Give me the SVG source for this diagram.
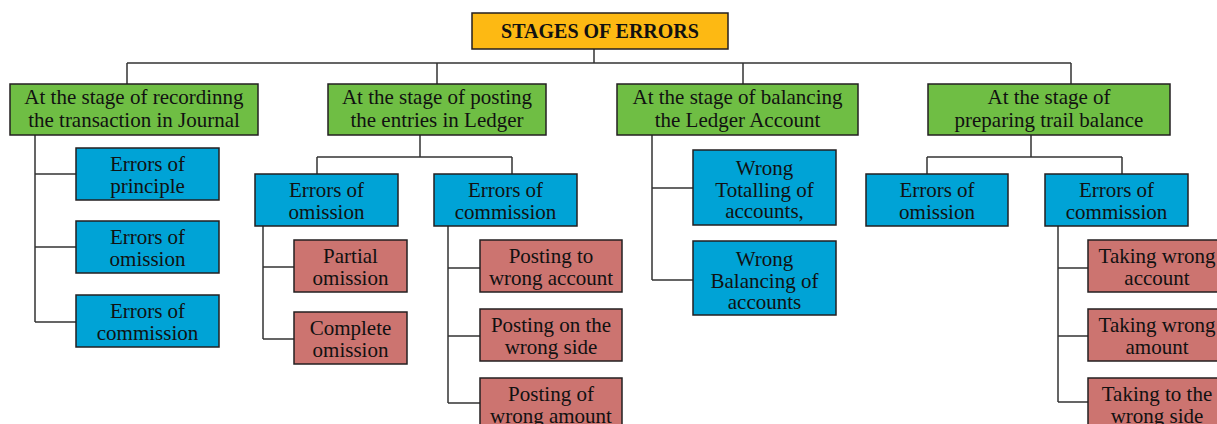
<svg xmlns="http://www.w3.org/2000/svg" width="1217" height="424" viewBox="0 0 1217 424">
  <style>
    .box { stroke: #231f20; stroke-width: 1.5; }
    .title { fill: #fdb913; }
    .stage { fill: #6fbe44; }
    .type { fill: #00a3d6; }
    .sub { fill: #cc7470; }
    text { font-family: "Liberation Serif", "Times New Roman", serif; font-size: 21px; fill: #111; text-anchor: middle; }
    .bold { font-weight: bold; font-size: 20px; }
    .wire { fill: none; stroke: #333; stroke-width: 1.5; }
  </style>
  <rect width="1217" height="424" fill="#fff"/>

  <!-- connectors -->
  <g id="connectors" class="wire">
    <path d="M594 49V63M127 63H1071M127 63V84M437 63V84M743 63V84M1071 63V84"/>
    <!-- journal stage -->
    <path d="M35 135V322M35 174H76M35 247H76M35 322H76"/>
    <!-- ledger posting stage -->
    <path d="M420 135V157M317 157H512M317 157V174M512 157V174"/>
    <path d="M263 226V339M263 267H294M263 339H294"/>
    <path d="M448 226V403M448 268H480M448 336H480M448 403H480"/>
    <!-- balancing stage -->
    <path d="M652 135V280M652 188H693M652 280H693"/>
    <!-- trial balance stage -->
    <path d="M1031 135V157M927 157H1122M927 157V174M1122 157V174"/>
    <path d="M1058 226V402M1058 268H1088M1058 336H1088M1058 402H1088"/>
  </g>

  <g id="root">
    <rect class="box title" x="472" y="13" width="256" height="36"/>
    <text class="bold" x="600" y="38">STAGES OF ERRORS</text>
  </g>

  <g id="stage-journal">
    <rect class="box stage" x="10" y="84" width="248" height="51"/>
    <text x="134" y="104">At the stage of recordinng</text>
    <text x="134" y="127">the transaction in Journal</text>
  </g>
  <g id="stage-ledger">
    <rect class="box stage" x="328" y="84" width="218" height="51"/>
    <text x="437" y="104">At the stage of posting</text>
    <text x="437" y="127">the entries in Ledger</text>
  </g>
  <g id="stage-balancing">
    <rect class="box stage" x="617" y="84" width="241" height="51"/>
    <text x="737.5" y="104">At the stage of balancing</text>
    <text x="737.5" y="127">the Ledger Account</text>
  </g>
  <g id="stage-trial">
    <rect class="box stage" x="928" y="84" width="242" height="51"/>
    <text x="1049" y="104">At the stage of</text>
    <text x="1049" y="127">preparing trail balance</text>
  </g>

  <!-- journal stage errors -->
  <g id="j-principle">
    <rect class="box type" x="76" y="148" width="143" height="52"/>
    <text x="147.5" y="171">Errors of</text>
    <text x="147.5" y="193">principle</text>
  </g>
  <g id="j-omission">
    <rect class="box type" x="76" y="221" width="143" height="52"/>
    <text x="147.5" y="244">Errors of</text>
    <text x="147.5" y="266">omission</text>
  </g>
  <g id="j-commission">
    <rect class="box type" x="76" y="295" width="143" height="52"/>
    <text x="147.5" y="318">Errors of</text>
    <text x="147.5" y="340">commission</text>
  </g>

  <!-- ledger posting errors -->
  <g id="l-omission">
    <rect class="box type" x="255" y="174" width="143" height="52"/>
    <text x="326.5" y="197">Errors of</text>
    <text x="326.5" y="219">omission</text>
  </g>
  <g id="l-commission">
    <rect class="box type" x="434" y="174" width="143" height="52"/>
    <text x="505.5" y="197">Errors of</text>
    <text x="505.5" y="219">commission</text>
  </g>
  <g id="l-partial">
    <rect class="box sub" x="294" y="240" width="113" height="52"/>
    <text x="350.5" y="263">Partial</text>
    <text x="350.5" y="285">omission</text>
  </g>
  <g id="l-complete">
    <rect class="box sub" x="294" y="312" width="113" height="52"/>
    <text x="350.5" y="335">Complete</text>
    <text x="350.5" y="357">omission</text>
  </g>
  <g id="l-wrong-account">
    <rect class="box sub" x="480" y="240" width="142" height="52"/>
    <text x="551" y="263">Posting to</text>
    <text x="551" y="285">wrong account</text>
  </g>
  <g id="l-wrong-side">
    <rect class="box sub" x="480" y="309" width="142" height="52"/>
    <text x="551" y="332">Posting on the</text>
    <text x="551" y="354">wrong side</text>
  </g>
  <g id="l-wrong-amount">
    <rect class="box sub" x="480" y="378" width="142" height="52"/>
    <text x="551" y="401">Posting of</text>
    <text x="551" y="423">wrong amount</text>
  </g>

  <!-- balancing errors -->
  <g id="b-totalling">
    <rect class="box type" x="693" y="150" width="143" height="75"/>
    <text x="764.5" y="175">Wrong</text>
    <text x="764.5" y="197">Totalling of</text>
    <text x="764.5" y="218">accounts,</text>
  </g>
  <g id="b-balancing">
    <rect class="box type" x="693" y="241" width="143" height="74"/>
    <text x="764.5" y="266">Wrong</text>
    <text x="764.5" y="288">Balancing of</text>
    <text x="764.5" y="309">accounts</text>
  </g>

  <!-- trial balance errors -->
  <g id="t-omission">
    <rect class="box type" x="866" y="174" width="142" height="52"/>
    <text x="937" y="197">Errors of</text>
    <text x="937" y="219">omission</text>
  </g>
  <g id="t-commission">
    <rect class="box type" x="1045" y="174" width="143" height="52"/>
    <text x="1116.5" y="197">Errors of</text>
    <text x="1116.5" y="219">commission</text>
  </g>
  <g id="t-wrong-account">
    <rect class="box sub" x="1088" y="240" width="142" height="52"/>
    <text x="1157" y="263">Taking wrong</text>
    <text x="1157" y="285">account</text>
  </g>
  <g id="t-wrong-amount">
    <rect class="box sub" x="1088" y="309" width="142" height="52"/>
    <text x="1157" y="332">Taking wrong</text>
    <text x="1157" y="354">amount</text>
  </g>
  <g id="t-wrong-side">
    <rect class="box sub" x="1088" y="378" width="142" height="52"/>
    <text x="1157" y="401">Taking to the</text>
    <text x="1157" y="423">wrong side</text>
  </g>
</svg>
